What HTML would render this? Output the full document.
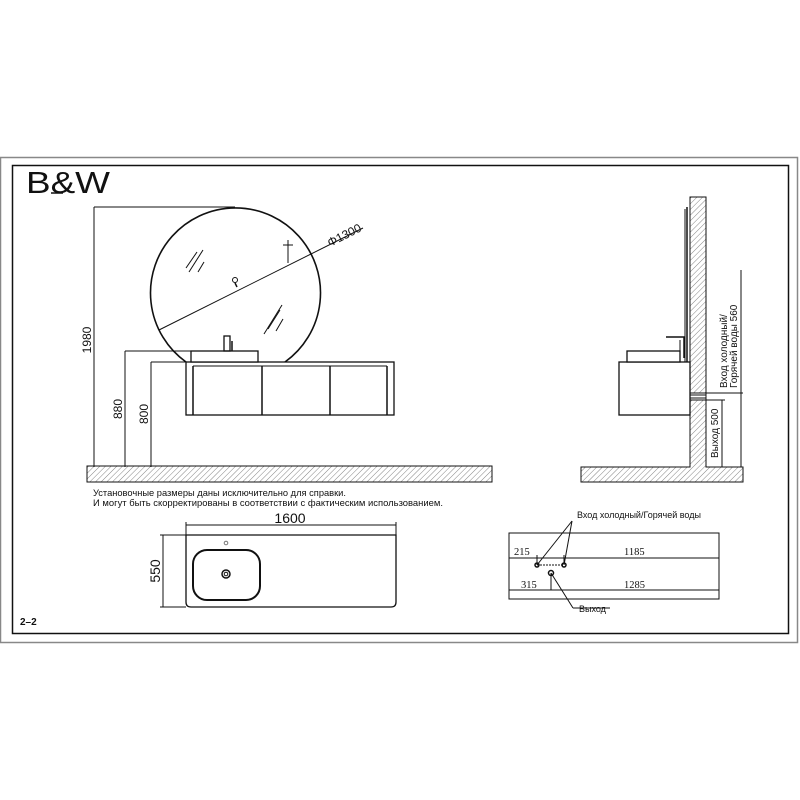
<!DOCTYPE html>
<html><head><meta charset="utf-8"><style>
html,body{margin:0;padding:0;background:#fff;width:800px;height:800px;overflow:hidden}
svg{display:block}
text{font-family:"Liberation Sans",sans-serif;fill:#111}
</style></head><body>
<svg width="800" height="800" viewBox="0 0 800 800" xmlns="http://www.w3.org/2000/svg">
<defs>
<pattern id="h" patternUnits="userSpaceOnUse" width="4" height="4" patternTransform="rotate(45)">
<rect width="4" height="4" fill="#fff"/><line x1="0" y1="0" x2="0" y2="4" stroke="#666" stroke-width="0.8"/>
</pattern>
</defs>
<rect x="0.5" y="157.5" width="797" height="485" fill="none" stroke="#888" stroke-width="1.5"/>
<rect x="12.5" y="165.5" width="776" height="468" fill="none" stroke="#111" stroke-width="1.5"/>
<text x="26" y="193" font-size="31" style="font-weight:300" textLength="84" lengthAdjust="spacingAndGlyphs">B&amp;W</text>
<line x1="51" y1="193" x2="63" y2="193" stroke="#111" stroke-width="1.5"/>

<g stroke="#111" fill="none" stroke-width="1">
<rect x="87" y="466" width="405" height="16" fill="url(#h)"/>
<path d="M 186 362 A 85 85 0 1 1 285 362" stroke-width="1.6"/>
<line x1="159" y1="330" x2="363" y2="228"/>
<line x1="94" y1="207" x2="94" y2="467"/>
<line x1="94" y1="207" x2="235" y2="207"/>
<line x1="125" y1="351" x2="125" y2="467"/>
<line x1="125" y1="351" x2="191" y2="351"/>
<line x1="151" y1="362" x2="151" y2="467"/>
<line x1="151" y1="362" x2="186" y2="362"/>
<rect x="186" y="362" width="208" height="53" stroke-width="1.3" fill="#fff"/>
<line x1="193" y1="366" x2="387" y2="366"/>
<line x1="193" y1="366" x2="193" y2="415" stroke-width="1.5"/>
<line x1="387" y1="366" x2="387" y2="415" stroke-width="1.5"/>
<line x1="262" y1="366" x2="262" y2="415" stroke-width="1.5"/>
<line x1="330" y1="366" x2="330" y2="415" stroke-width="1.5"/>
<rect x="191" y="351" width="67" height="11" fill="#fff" stroke-width="1.3"/>
<rect x="224" y="336" width="6" height="15" stroke-width="1.3"/>
<line x1="232" y1="341" x2="232" y2="351" stroke-width="1.5"/>
<line x1="186" y1="268" x2="197" y2="252"/><line x1="189" y1="272" x2="203" y2="250"/><line x1="198" y1="272" x2="204" y2="262"/>
<line x1="268" y1="329" x2="280" y2="310"/><line x1="264" y1="334" x2="282" y2="305"/><line x1="276" y1="331" x2="283" y2="319"/>
<line x1="288" y1="240" x2="288" y2="263"/><line x1="283" y1="245" x2="293" y2="245"/>
<circle cx="235" cy="280" r="2.5"/><line x1="235" y1="283" x2="237" y2="287" stroke-width="1.5"/>
</g>
<text transform="translate(330,247) rotate(-27)" font-size="12">Φ1300</text>
<text transform="translate(91,340) rotate(-90)" font-size="12" text-anchor="middle">1980</text>
<text transform="translate(122,409) rotate(-90)" font-size="12" text-anchor="middle">880</text>
<text transform="translate(148,414) rotate(-90)" font-size="12" text-anchor="middle">800</text>

<g stroke="#111" fill="none" stroke-width="1">
<path d="M581 467 H690 V197 H706 V467 H743 V482 H581 Z" fill="url(#h)"/>
<rect x="690" y="393" width="16" height="7" fill="#fff"/>
<line x1="690" y1="395" x2="706" y2="395"/><line x1="690" y1="398" x2="706" y2="398"/>
<line x1="687" y1="207" x2="687" y2="362" stroke-width="1.5"/>
<line x1="685" y1="209" x2="685" y2="362"/>
<rect x="619" y="362" width="71" height="53" fill="#fff" stroke-width="1.3"/>
<rect x="627" y="351" width="53" height="11" fill="#fff" stroke-width="1.3"/>
<path d="M666 337 H684 V358" stroke-width="1.5"/>
<line x1="680" y1="340" x2="680" y2="351"/>
<line x1="741" y1="270" x2="741" y2="467"/>
<line x1="706" y1="393" x2="743" y2="393"/>
<line x1="722" y1="400" x2="722" y2="467"/>
<line x1="706" y1="400" x2="725" y2="400"/>
</g>
<text transform="translate(727,388) rotate(-90)" font-size="10">Вход холодный/</text>
<text transform="translate(737,388) rotate(-90)" font-size="10">Горячей воды 560</text>
<text transform="translate(718,458) rotate(-90)" font-size="10">Выход 500</text>

<text x="93" y="496" font-size="9.3">Установочные размеры даны исключительно для справки.</text>
<text x="93" y="506" font-size="9.3" textLength="350" lengthAdjust="spacingAndGlyphs">И могут быть скорректированы в соответствии с фактическим использованием.</text>

<g stroke="#111" fill="none" stroke-width="1">
<path d="M186 535 H396 V602 Q396 607 391 607 H191 Q186 607 186 602 Z" stroke-width="1.3"/>
<line x1="186" y1="525" x2="396" y2="525"/>
<line x1="186" y1="522" x2="186" y2="535"/><line x1="396" y1="522" x2="396" y2="535"/>
<line x1="163" y1="535" x2="163" y2="607"/>
<line x1="160" y1="535" x2="186" y2="535"/><line x1="160" y1="607" x2="186" y2="607"/>
<rect x="193" y="550" width="67" height="50" rx="14" stroke-width="2"/>
<circle cx="226" cy="574" r="4" stroke-width="1.5"/><circle cx="226" cy="574" r="1.8"/>
<circle cx="226" cy="543" r="1.8" stroke="#777"/>
</g>
<text x="290" y="523" font-size="14" text-anchor="middle">1600</text>
<text transform="translate(160,571) rotate(-90)" font-size="14" text-anchor="middle">550</text>

<g stroke="#111" fill="none" stroke-width="1">
<rect x="509" y="533" width="210" height="66"/>
<line x1="509" y1="558" x2="719" y2="558"/>
<line x1="509" y1="590" x2="719" y2="590"/>
<line x1="537" y1="565" x2="564" y2="565" stroke-dasharray="2,1"/>
<line x1="537" y1="555" x2="537" y2="565"/>
<line x1="564" y1="555" x2="564" y2="565"/>
<line x1="551" y1="573" x2="551" y2="590"/>
<circle cx="537" cy="565" r="2" stroke-width="1.5"/>
<circle cx="564" cy="565" r="2" stroke-width="1.5"/>
<circle cx="551" cy="573" r="2.5" stroke-width="1.5"/>
<line x1="537" y1="565" x2="572" y2="521"/>
<line x1="564" y1="565" x2="572" y2="521"/>
<line x1="551" y1="573" x2="573" y2="608"/>
<line x1="573" y1="608" x2="610" y2="608"/>
</g>
<text x="514" y="555" font-size="10.5" style="font-family:'Liberation Serif',serif">215</text>
<text x="624" y="555" font-size="10.5" style="font-family:'Liberation Serif',serif">1185</text>
<text x="521" y="588" font-size="10.5" style="font-family:'Liberation Serif',serif">315</text>
<text x="624" y="588" font-size="10.5" style="font-family:'Liberation Serif',serif">1285</text>
<text x="577" y="518" font-size="9">Вход холодный/Горячей воды</text>
<text x="579" y="612" font-size="9">Выход</text>

<text x="20" y="625" font-size="10" font-weight="bold">2–2</text>
</svg>
</body></html>
